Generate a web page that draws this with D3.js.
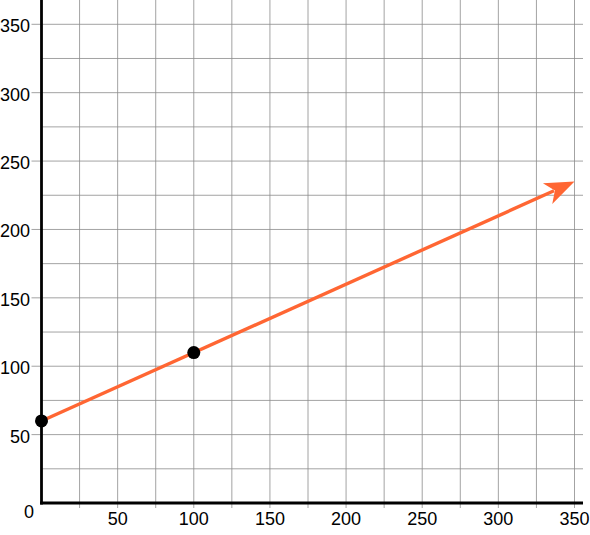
<!DOCTYPE html>
<html>
<head>
<meta charset="utf-8">
<script src="https://cdn.jsdelivr.net/npm/d3@7"></script>
<style>
  html, body { margin: 0; padding: 0; background: #fff; }
  svg { display: block; }
  text { font-family: "Liberation Sans", Arial, Helvetica, sans-serif; font-size: 18px; fill: #000; }
</style>
</head>
<body>
<div class="main"></div>
<script>
// data
var pointX = [0, 100];
var pointY = [60, 110];
var rayX = [0, 350];      // line starts at the first point, arrow tip at x = 350
var rayY = [60, 235];
var gridTicks = d3.range(0, 351, 25);
var labelTicks = [50, 100, 150, 200, 250, 300, 350];

var width = 590, height = 535;

var x = d3.scaleLinear().domain([0, 350]).range([41.5, 574.5]);
var y = d3.scaleLinear().domain([0, 350]).range([503, 24.3]);

var svg = d3.select('.main')
    .append('svg')
    .attr('width', width)
    .attr('height', height);

// grid
var grid = svg.append('g')
    .attr('stroke', '#8c8c8c')
    .attr('stroke-width', 0.8);

grid.selectAll('line.v')
    .data(gridTicks.filter(function(d) { return d > 0; }))
    .enter().append('line')
    .attr('class', 'v')
    .attr('x1', function(d) { return x(d); })
    .attr('x2', function(d) { return x(d); })
    .attr('y1', 0)
    .attr('y2', y(0) + 5);

grid.selectAll('line.h')
    .data(gridTicks.filter(function(d) { return d > 0; }))
    .enter().append('line')
    .attr('class', 'h')
    .attr('x1', function(d) { return labelTicks.indexOf(d) >= 0 ? x(0) - 10 : x(0); })
    .attr('x2', 583)
    .attr('y1', function(d) { return y(d); })
    .attr('y2', function(d) { return y(d); });

// axes
svg.append('line')
    .attr('x1', x(0)).attr('x2', x(0))
    .attr('y1', 0).attr('y2', y(0) + 1.5)
    .attr('stroke', '#000').attr('stroke-width', 2.8);

svg.append('line')
    .attr('x1', x(0) - 1.4).attr('x2', 583)
    .attr('y1', y(0)).attr('y2', y(0))
    .attr('stroke', '#000').attr('stroke-width', 2.8);

// tick labels
svg.selectAll('text.xl')
    .data(labelTicks)
    .enter().append('text')
    .attr('class', 'xl')
    .attr('x', function(d) { return x(d); })
    .attr('y', 525)
    .attr('text-anchor', 'middle')
    .text(function(d) { return d; });

svg.selectAll('text.yl')
    .data(labelTicks)
    .enter().append('text')
    .attr('class', 'yl')
    .attr('x', 30)
    .attr('y', function(d) { return y(d) + 8; })
    .attr('text-anchor', 'end')
    .text(function(d) { return d; });

svg.append('text')
    .attr('x', 29)
    .attr('y', 518)
    .attr('text-anchor', 'middle')
    .text('0');

// ray with arrow head
var x0 = x(rayX[0]), y0 = y(rayY[0]);
var x1 = x(rayX[1]), y1 = y(rayY[1]);
var ang = Math.atan2(y1 - y0, x1 - x0);
var ux = Math.cos(ang), uy = Math.sin(ang);
var nx = -uy, ny = ux;
var headLen = 29.5, headHalf = 11.4, notch = 21.5;
var orange = '#ff6633';

svg.append('line')
    .attr('x1', x0).attr('y1', y0)
    .attr('x2', x1 - ux * (notch + 1)).attr('y2', y1 - uy * (notch + 1))
    .attr('stroke', orange)
    .attr('stroke-width', 3.4);

var head = [
    [x1, y1],
    [x1 - ux * headLen + nx * headHalf, y1 - uy * headLen + ny * headHalf],
    [x1 - ux * notch, y1 - uy * notch],
    [x1 - ux * headLen - nx * headHalf, y1 - uy * headLen - ny * headHalf]
];
svg.append('path')
    .attr('d', d3.line()(head) + 'Z')
    .attr('fill', orange);

// points
svg.selectAll('circle')
    .data(pointX)
    .enter().append('circle')
    .attr('cx', function(d) { return x(d); })
    .attr('cy', function(d, i) { return y(pointY[i]); })
    .attr('r', 6.5)
    .attr('fill', '#000');
</script>
</body>
</html>
